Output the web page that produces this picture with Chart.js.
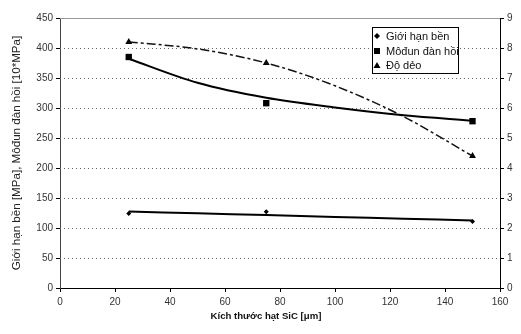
<!DOCTYPE html>
<html>
<head>
<meta charset="utf-8">
<script src="https://cdn.jsdelivr.net/npm/chart.js@4/dist/chart.umd.min.js"></script>
<style>
  html, body { margin: 0; background: #fff; }
</style>
</head>
<body>
<canvas id="chart" width="521" height="334"></canvas>
<script>
// measured points
const sizes = [25, 75, 150];
const gioiHanBen = [124, 127, 111];
const modun = [385, 308, 278];
const doDeo = [8.2, 7.5, 4.4];

// trend lines
const trendX = [25, 50, 75, 100, 125, 150];
const benTrend = [127.5, 124.5, 121.5, 118.5, 115.5, 112.5];
const modunTrend = [382, 342, 317, 301, 288, 279];
const doDeoTrend = [8.2, 7.97, 7.5, 6.74, 5.71, 4.4];

const xTicks = [0, 20, 40, 60, 80, 100, 120, 140, 160];
const leftTicks = [0, 50, 100, 150, 200, 250, 300, 350, 400, 450];
const rightTicks = [0, 1, 2, 3, 4, 5, 6, 7, 8, 9];

const legendLabels = ['Giới hạn bền', 'Môđun đàn hồi', 'Độ dẻo'];
const xTitle = 'Kích thước hạt SiC [μm]';
const yTitle = 'Giới hạn bền [MPa], Môđun đàn hồi [10*MPa]';

const pts = (xs, ys) => xs.map((x, i) => ({ x: x, y: ys[i] }));
const FONT = 'Liberation Sans, Arial, sans-serif';

// dotted horizontal grid + grey top border, like the Excel plot area
const gridPlugin = {
  id: 'excelGrid',
  beforeDatasetsDraw(chart) {
    const { ctx, chartArea: a, scales } = chart;
    const y = scales.y;
    ctx.save();
    ctx.lineWidth = 1;
    ctx.strokeStyle = '#666';
    ctx.setLineDash([1, 3]);
    leftTicks.forEach(v => {
      if (v <= 0 || v >= 450) return;
      const py = Math.round(y.getPixelForValue(v)) + 0.5;
      ctx.beginPath();
      ctx.moveTo(a.left, py);
      ctx.lineTo(a.right, py);
      ctx.stroke();
    });
    ctx.setLineDash([]);
    ctx.strokeStyle = '#999';
    const top = Math.round(a.top) + 0.5;
    ctx.beginPath();
    ctx.moveTo(a.left, top);
    ctx.lineTo(a.right, top);
    ctx.stroke();
    ctx.restore();
  }
};

function marker(ctx, style, x, y) {
  ctx.beginPath();
  if (style === 'diamond') {
    ctx.moveTo(x, y - 3); ctx.lineTo(x + 3, y); ctx.lineTo(x, y + 3); ctx.lineTo(x - 3, y);
  } else if (style === 'square') {
    ctx.rect(x - 3, y - 3, 6, 6);
  } else {
    ctx.moveTo(x, y - 3.5); ctx.lineTo(x + 3.5, y + 2.5); ctx.lineTo(x - 3.5, y + 2.5);
  }
  ctx.closePath();
  ctx.fill();
}

const legendPlugin = {
  id: 'boxLegend',
  afterDraw(chart) {
    const ctx = chart.ctx;
    ctx.save();
    ctx.fillStyle = '#fff';
    ctx.fillRect(372, 27, 86, 46);
    ctx.strokeStyle = '#000';
    ctx.lineWidth = 1;
    ctx.strokeRect(372.5, 27.5, 86, 46);
    const styles = ['diamond', 'square', 'triangle'];
    const rows = [36, 51, 65.5];
    ctx.font = '11px ' + FONT;
    ctx.textBaseline = 'middle';
    legendLabels.forEach((t, i) => {
      ctx.fillStyle = '#000';
      marker(ctx, styles[i], 377, rows[i]);
      ctx.fillStyle = '#111';
      ctx.fillText(t, 386, rows[i] + 0.5);
    });
    // x axis title
    ctx.font = 'bold 9.6px ' + FONT;
    ctx.textAlign = 'center';
    ctx.fillStyle = '#111';
    ctx.fillText(xTitle, 266, 316);
    ctx.restore();
  }
};

new Chart(document.getElementById('chart'), {
  type: 'scatter',
  data: {
    datasets: [
      { data: pts(trendX, benTrend), yAxisID: 'y', showLine: true, pointRadius: 0,
        borderColor: '#000', borderWidth: 2, cubicInterpolationMode: 'monotone' },
      { data: pts(trendX, modunTrend), yAxisID: 'y', showLine: true, pointRadius: 0,
        borderColor: '#000', borderWidth: 2, cubicInterpolationMode: 'monotone' },
      { data: pts(trendX, doDeoTrend), yAxisID: 'y2', showLine: true, pointRadius: 0,
        borderColor: '#111', borderWidth: 1.5, borderDash: [9, 3, 3, 3], cubicInterpolationMode: 'monotone' },
      { label: legendLabels[0], data: pts(sizes, gioiHanBen), yAxisID: 'y',
        pointStyle: 'rectRot', pointRadius: 2.5, backgroundColor: '#000', borderColor: '#000', borderWidth: 0 },
      { label: legendLabels[1], data: pts(sizes, modun), yAxisID: 'y',
        pointStyle: 'rect', pointRadius: 4.5, backgroundColor: '#000', borderColor: '#000', borderWidth: 0 },
      { label: legendLabels[2], data: pts(sizes, doDeo), yAxisID: 'y2',
        pointStyle: 'triangle', pointRadius: 4, backgroundColor: '#000', borderColor: '#000', borderWidth: 0 }
    ]
  },
  options: {
    responsive: false,
    animation: false,
    layout: { padding: { top: 18, left: 0, right: 0, bottom: 0 } },
    plugins: { legend: { display: false }, tooltip: { enabled: false } },
    scales: {
      x: {
        type: 'linear', min: 0, max: 160,
        afterBuildTicks: s => { s.ticks = xTicks.map(v => ({ value: v })); },
        afterFit: s => { s.height = 46; },
        ticks: { font: { family: FONT, size: 10 }, color: '#333', padding: 4 },
        grid: { drawOnChartArea: false, drawTicks: true, tickLength: 4, color: '#000' },
        border: { color: '#000', width: 1 }
      },
      y: {
        position: 'left', min: 0, max: 450,
        afterBuildTicks: s => { s.ticks = leftTicks.map(v => ({ value: v })); },
        afterFit: s => { s.width = 60; },
        ticks: { font: { family: FONT, size: 10 }, color: '#333', padding: 3 },
        grid: { drawOnChartArea: false, drawTicks: true, tickLength: 4, color: '#000' },
        border: { color: '#444', width: 1 },
        title: { display: true, text: yTitle, color: '#222',
          font: { family: FONT, size: 11.6 }, padding: { top: 10, bottom: 0 } }
      },
      y2: {
        position: 'right', min: 0, max: 9,
        afterBuildTicks: s => { s.ticks = rightTicks.map(v => ({ value: v })); },
        afterFit: s => { s.width = 21; },
        ticks: { font: { family: FONT, size: 10 }, color: '#333', padding: 3 },
        grid: { drawOnChartArea: false, drawTicks: true, tickLength: 4, color: '#000' },
        border: { color: '#000', width: 1 }
      }
    }
  },
  plugins: [gridPlugin, legendPlugin]
});
</script>
</body>
</html>
